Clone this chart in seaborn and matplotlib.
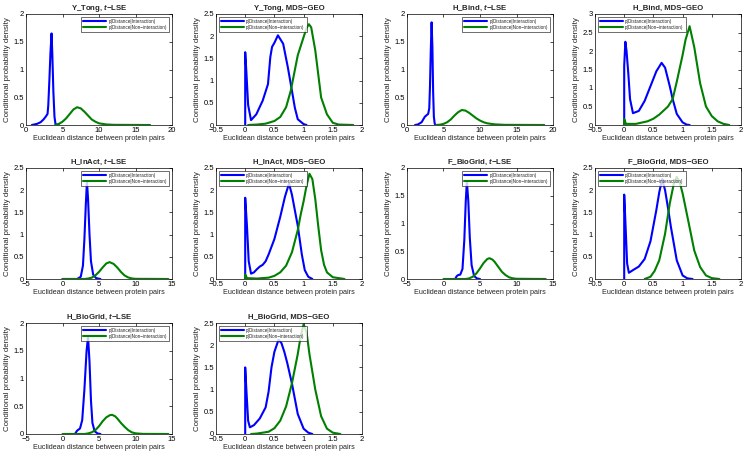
import matplotlib
matplotlib.use("Agg")
import matplotlib.pyplot as plt
import seaborn as sns
import numpy as np
import pandas as pd
from matplotlib.ticker import FuncFormatter, MultipleLocator

# ---------------- data ----------------
LABEL_INT = "p(Distance|Interaction)"
LABEL_NON = "p(Distance|Non\u2212interaction)"
X_LABEL = "Euclidean distance between protein pairs"
Y_LABEL = "Conditional probability density"

titles = ["Y_Tong, $\\it{t}$\u2212LSE", "Y_Tong, MDS\u2212GEO",
          "H_Bind, $\\it{t}$\u2212LSE", "H_Bind, MDS\u2212GEO",
          "H_InAct, $\\it{t}$\u2212LSE", "H_InAct, MDS\u2212GEO",
          "F_BioGrid, $\\it{t}$\u2212LSE", "F_BioGrid, MDS\u2212GEO",
          "H_BioGrid, $\\it{t}$\u2212LSE", "H_BioGrid, MDS\u2212GEO"]

# Y_Tong t-LSE
ytong_lse_int_x = [0.8, 1.5, 2.0, 2.4, 2.7, 2.85, 2.95, 3.05, 3.2, 3.35, 3.5, 3.6, 3.75, 3.9, 4.05, 4.5]
ytong_lse_int_y = [0, 0.02, 0.05, 0.1, 0.15, 0.18, 0.2, 0.35, 0.8, 1.3, 1.65, 1.3, 0.6, 0.15, 0.01, 0]
ytong_lse_non_x = [4.0, 4.5, 5.0, 5.5, 6.0, 6.5, 7.0, 7.5, 8.0, 8.5, 9.0, 9.5, 10.0, 11.0, 12.0, 17.0]
ytong_lse_non_y = [0, 0.02, 0.06, 0.12, 0.2, 0.28, 0.32, 0.3, 0.24, 0.17, 0.1, 0.06, 0.03, 0.01, 0.003, 0]
# Y_Tong MDS-GEO
ytong_mds_int_x = [0, 0, 0.02, 0.05, 0.1, 0.19, 0.3, 0.39, 0.43, 0.46, 0.5, 0.56, 0.65, 0.73, 0.79, 0.85, 0.9, 1.0, 1.05]
ytong_mds_int_y = [0, 1.64, 1.2, 0.45, 0.11, 0.24, 0.55, 0.92, 1.53, 1.76, 1.85, 2.02, 1.83, 1.3, 0.85, 0.39, 0.13, 0.02, 0]
ytong_mds_non_x = [0.05, 0.2, 0.35, 0.5, 0.6, 0.7, 0.78, 0.9, 1.0, 1.05, 1.09, 1.13, 1.2, 1.3, 1.4, 1.5, 1.6, 1.85]
ytong_mds_non_y = [0, 0.01, 0.03, 0.09, 0.18, 0.4, 0.77, 1.57, 1.98, 2.18, 2.27, 2.2, 1.68, 0.62, 0.24, 0.05, 0.01, 0]
# H_Bind t-LSE
hbind_lse_int_x = [1.1, 1.5, 2.0, 2.45, 2.9, 3.05, 3.15, 3.25, 3.37, 3.48, 3.58, 3.68, 3.8, 3.95]
hbind_lse_int_y = [0, 0.01, 0.05, 0.15, 0.2, 0.3, 0.7, 1.3, 1.85, 1.4, 0.6, 0.15, 0.02, 0]
hbind_lse_non_x = [4.0, 4.5, 5.0, 5.5, 6.0, 6.5, 7.0, 7.5, 8.0, 8.5, 9.0, 9.5, 10.0, 10.5, 11.0, 12.0, 13.3, 18.8]
hbind_lse_non_y = [0, 0.005, 0.02, 0.05, 0.1, 0.17, 0.23, 0.27, 0.26, 0.22, 0.17, 0.12, 0.08, 0.05, 0.03, 0.012, 0.003, 0]
# H_Bind MDS-GEO
hbind_mds_int_x = [0, 0, 0.02, 0.04, 0.07, 0.1, 0.15, 0.25, 0.35, 0.45, 0.55, 0.64, 0.7, 0.78, 0.83, 0.9, 1.0, 1.07, 1.12]
hbind_mds_int_y = [0, 1.6, 2.25, 2.0, 1.4, 0.7, 0.32, 0.38, 0.65, 1.05, 1.45, 1.68, 1.55, 1.05, 0.7, 0.3, 0.07, 0.01, 0]
hbind_mds_non_x = [0, 0, 0.03, 0.2, 0.4, 0.5, 0.6, 0.75, 0.83, 0.9, 1.0, 1.05, 1.12, 1.2, 1.3, 1.4, 1.5, 1.6, 1.7, 1.8]
hbind_mds_non_y = [0, 0.16, 0.03, 0.03, 0.1, 0.17, 0.28, 0.5, 0.7, 1.17, 1.89, 2.3, 2.67, 2.1, 1.13, 0.5, 0.24, 0.1, 0.03, 0]
# H_InAct t-LSE
hinact_lse_int_x = [0, 2.0, 2.5, 2.8, 3.0, 3.2, 3.35, 3.5, 3.7, 3.9, 4.2, 4.6, 5.2]
hinact_lse_int_y = [0, 0, 0.05, 0.3, 0.9, 1.7, 2.2, 1.8, 1.0, 0.4, 0.1, 0.02, 0]
hinact_lse_non_x = [0, 3.0, 3.5, 4.0, 4.5, 5.0, 5.5, 6.0, 6.45, 7.0, 7.5, 8.0, 8.5, 9.0, 9.5, 10.0, 14.5]
hinact_lse_non_y = [0, 0, 0.01, 0.03, 0.08, 0.16, 0.26, 0.35, 0.38, 0.34, 0.26, 0.16, 0.08, 0.035, 0.012, 0.004, 0]
# H_InAct MDS-GEO
hinact_mds_int_x = [0, 0, 0.03, 0.06, 0.1, 0.15, 0.2, 0.25, 0.3, 0.35, 0.4, 0.5, 0.6, 0.68, 0.75, 0.8, 0.9, 0.97, 1.02, 1.08, 1.15]
hinact_mds_int_y = [0, 1.83, 1.2, 0.4, 0.12, 0.15, 0.22, 0.28, 0.32, 0.4, 0.55, 0.9, 1.4, 1.85, 2.15, 1.9, 1.2, 0.55, 0.2, 0.05, 0]
hinact_mds_non_x = [0, 0, 0.03, 0.2, 0.4, 0.5, 0.6, 0.7, 0.8, 0.9, 0.95, 1.0, 1.05, 1.1, 1.15, 1.2, 1.25, 1.3, 1.35, 1.4, 1.5, 1.7]
hinact_mds_non_y = [0, 0.1, 0.02, 0.01, 0.03, 0.07, 0.15, 0.3, 0.6, 1.1, 1.45, 1.75, 2.1, 2.37, 2.25, 1.8, 1.2, 0.65, 0.32, 0.15, 0.04, 0]
# F_BioGrid t-LSE
fbio_lse_int_x = [1.6, 1.8, 2.0, 2.3, 2.6, 2.85, 3.05, 3.2, 3.4, 3.6, 3.85, 4.2, 4.6, 5.0]
fbio_lse_int_y = [0, 0.05, 0.07, 0.08, 0.18, 0.7, 1.4, 1.76, 1.4, 0.75, 0.25, 0.05, 0.01, 0]
fbio_lse_non_x = [0, 3.0, 3.5, 4.0, 4.5, 5.0, 5.5, 6.0, 6.3, 6.7, 7.0, 7.5, 8.0, 8.5, 9.0, 9.5, 10.0, 14.0]
fbio_lse_non_y = [0, 0, 0.01, 0.04, 0.1, 0.19, 0.29, 0.36, 0.375, 0.35, 0.31, 0.22, 0.13, 0.07, 0.03, 0.012, 0.004, 0]
# F_BioGrid MDS-GEO
fbio_mds_int_x = [0, 0, 0.02, 0.05, 0.08, 0.15, 0.25, 0.35, 0.45, 0.55, 0.6, 0.65, 0.7, 0.75, 0.8, 0.9, 1.0, 1.08, 1.17]
fbio_mds_int_y = [0, 1.9, 1.3, 0.35, 0.14, 0.2, 0.28, 0.45, 0.85, 1.55, 1.95, 2.25, 2.0, 1.6, 1.17, 0.42, 0.08, 0.015, 0]
fbio_mds_non_x = [0.35, 0.45, 0.52, 0.6, 0.7, 0.78, 0.85, 0.9, 0.95, 1.0, 1.1, 1.2, 1.3, 1.4, 1.5, 1.63]
fbio_mds_non_y = [0, 0.05, 0.18, 0.42, 1.02, 1.7, 2.15, 2.3, 2.18, 1.93, 1.29, 0.64, 0.27, 0.08, 0.02, 0]
# H_BioGrid t-LSE
hbio_lse_int_x = [1.7, 2.0, 2.4, 2.7, 3.0, 3.3, 3.5, 3.7, 3.9, 4.1, 4.4, 4.8, 5.2]
hbio_lse_int_y = [0, 0.06, 0.1, 0.25, 0.8, 1.5, 1.75, 1.3, 0.6, 0.2, 0.05, 0.01, 0]
hbio_lse_non_x = [0, 3.0, 3.5, 4.0, 4.5, 5.0, 5.5, 6.0, 6.5, 6.8, 7.2, 7.5, 8.0, 8.5, 9.0, 9.5, 10.0, 11.0, 14.5]
hbio_lse_non_y = [0, 0, 0.01, 0.03, 0.07, 0.14, 0.23, 0.3, 0.34, 0.345, 0.32, 0.28, 0.2, 0.13, 0.07, 0.03, 0.012, 0.002, 0]
# H_BioGrid MDS-GEO
hbio_mds_int_x = [0, 0, 0.02, 0.05, 0.08, 0.15, 0.25, 0.35, 0.4, 0.45, 0.5, 0.57, 0.62, 0.67, 0.72, 0.8, 0.9, 1.0, 1.08, 1.15]
hbio_mds_int_y = [0, 1.5, 1.0, 0.3, 0.15, 0.2, 0.35, 0.6, 0.95, 1.5, 1.85, 2.12, 2.05, 1.85, 1.6, 1.14, 0.45, 0.12, 0.03, 0]
hbio_mds_non_x = [0.1, 0.2, 0.4, 0.5, 0.6, 0.7, 0.8, 0.9, 0.95, 1.0, 1.05, 1.1, 1.2, 1.3, 1.4, 1.5, 1.63]
hbio_mds_non_y = [0, 0.01, 0.05, 0.13, 0.3, 0.62, 1.14, 1.8, 2.2, 2.47, 2.3, 1.8, 1.0, 0.4, 0.12, 0.03, 0]

x_limits = [(0, 20), (-0.5, 2), (0, 20), (-0.5, 2), (-5, 15), (-0.5, 2), (-5, 15), (-0.5, 2), (-5, 15), (-0.5, 2)]
x_steps = [5, 0.5, 5, 0.5, 5, 0.5, 5, 0.5, 5, 0.5]
y_limits = [2, 2.5, 2, 3, 2.5, 2.5, 2, 2.5, 2, 2.5]

curves = [
    (ytong_lse_int_x, ytong_lse_int_y, ytong_lse_non_x, ytong_lse_non_y),
    (ytong_mds_int_x, ytong_mds_int_y, ytong_mds_non_x, ytong_mds_non_y),
    (hbind_lse_int_x, hbind_lse_int_y, hbind_lse_non_x, hbind_lse_non_y),
    (hbind_mds_int_x, hbind_mds_int_y, hbind_mds_non_x, hbind_mds_non_y),
    (hinact_lse_int_x, hinact_lse_int_y, hinact_lse_non_x, hinact_lse_non_y),
    (hinact_mds_int_x, hinact_mds_int_y, hinact_mds_non_x, hinact_mds_non_y),
    (fbio_lse_int_x, fbio_lse_int_y, fbio_lse_non_x, fbio_lse_non_y),
    (fbio_mds_int_x, fbio_mds_int_y, fbio_mds_non_x, fbio_mds_non_y),
    (hbio_lse_int_x, hbio_lse_int_y, hbio_lse_non_x, hbio_lse_non_y),
    (hbio_mds_int_x, hbio_mds_int_y, hbio_mds_non_x, hbio_mds_non_y),
]

# ---------------- styling ----------------
sns.set_style("white")
plt.rcParams["font.family"] = ["Liberation Sans", "DejaVu Sans"]
plt.rcParams["mathtext.fontset"] = "custom"
plt.rcParams["mathtext.it"] = "Liberation Sans:italic:bold"
plt.rcParams["mathtext.rm"] = "Liberation Sans:bold"
plt.rcParams["axes.unicode_minus"] = True

BLUE = "#0000ff"
GREEN = "#008000"

W, H = 748, 455
fig = plt.figure(figsize=(W / 100, H / 100), dpi=100)

col_left = [26, 216, 407, 595]
row_top = [14, 168, 323]
ax_w, ax_h = 146, 111


def fmt(v, pos):
    s = "%g" % v
    return s.replace("-", "\u2212")


for i in range(10):
    r, c = divmod(i, 4)
    ax = fig.add_axes([col_left[c] / W, 1 - (row_top[r] + ax_h) / H, ax_w / W, ax_h / H])
    bx, by, gx, gy = curves[i]
    sns.lineplot(x=bx, y=by, sort=False, estimator=None, color=BLUE, linewidth=1.5,
                 ax=ax, label=LABEL_INT)
    sns.lineplot(x=gx, y=gy, sort=False, estimator=None, color=GREEN, linewidth=1.5,
                 ax=ax, label=LABEL_NON)
    ax.set_xlim(*x_limits[i])
    ax.set_ylim(0, y_limits[i])
    ax.xaxis.set_major_locator(MultipleLocator(x_steps[i]))
    ax.yaxis.set_major_locator(MultipleLocator(0.5))
    ax.xaxis.set_major_formatter(FuncFormatter(fmt))
    ax.yaxis.set_major_formatter(FuncFormatter(fmt))
    ax.tick_params(direction="in", length=2.5, width=0.5, top=True, right=True,
                   labelsize=5.5, pad=1.5, colors="black")
    for sp in ax.spines.values():
        sp.set_linewidth(0.5)
        sp.set_color("black")
    ax.set_title(titles[i], fontsize=5.6, fontweight="bold", pad=3)
    ax.set_xlabel(X_LABEL, fontsize=5.2, labelpad=1)
    ax.set_ylabel(Y_LABEL, fontsize=5.7, labelpad=1.5)
    loc = "upper right" if i % 2 == 0 else "upper left"
    leg = ax.legend(loc=loc, fontsize=3.3, frameon=True, fancybox=False,
                    handlelength=5.0, handletextpad=0.5, borderpad=0.45,
                    labelspacing=0.25, borderaxespad=0.6)
    leg.get_frame().set_edgecolor("black")
    leg.get_frame().set_linewidth(0.5)
    for line in leg.get_lines():
        line.set_linewidth(1.5)

fig.savefig("out.png", dpi=100)
